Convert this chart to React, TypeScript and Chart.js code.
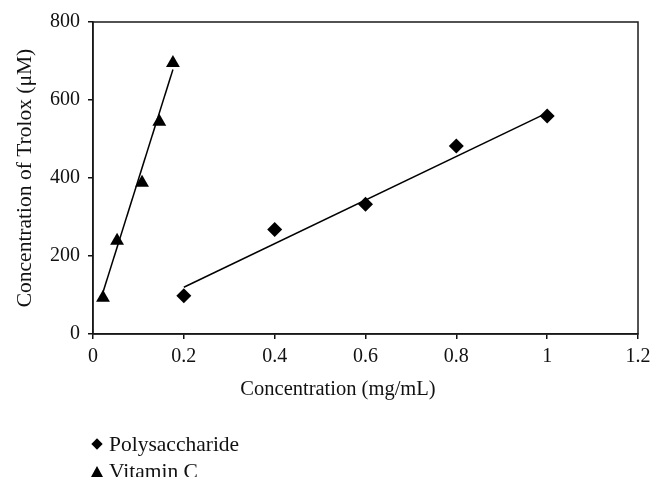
import React, { useEffect, useRef } from 'react';
import { Chart, registerables } from 'chart.js';

Chart.register(...registerables);

const seriesNames = ['Polysaccharide', 'Vitamin C'];
const polyX = [0.2, 0.4, 0.6, 0.8, 1.0];
const polyY = [98, 268, 333, 482, 559];
const vitCX = [0.022, 0.053, 0.108, 0.146, 0.176];
const vitCY = [93, 239, 388, 544, 695];
const polyTrendX = [0.2, 1.0];
const polyTrendY = [120, 567];
const vitCTrendX = [0.022, 0.176];
const vitCTrendY = [107, 678];
const xTickLabels = ['0', '0.2', '0.4', '0.6', '0.8', '1', '1.2'];
const yTickLabels = ['0', '200', '400', '600', '800'];
const xAxisTitle = 'Concentration (mg/mL)';
const yAxisTitle = 'Concentration of Trolox (\u03bcM)';

const FONT = "'Liberation Serif', 'DejaVu Serif', serif";

const toPts = (xs: number[], ys: number[]) => xs.map((x, i) => ({ x, y: ys[i] }));

const framePlugin = {
  id: 'frame',
  afterDraw(chart: any) {
    const { ctx, chartArea } = chart;
    ctx.save();
    ctx.strokeStyle = '#1a1a1a';
    ctx.lineWidth = 1.5;
    ctx.strokeRect(chartArea.left, chartArea.top, chartArea.right - chartArea.left, chartArea.bottom - chartArea.top);
    ctx.restore();
  },
};

export default function App() {
  const ref = useRef<HTMLCanvasElement | null>(null);

  useEffect(() => {
    if (!ref.current) return;
    const chart = new Chart(ref.current, {
      type: 'scatter',
      data: {
        datasets: [
          {
            label: seriesNames[0],
            data: toPts(polyX, polyY),
            pointStyle: 'rectRot',
            pointRadius: 7.5,
            backgroundColor: '#000',
            borderColor: '#000',
            borderWidth: 0,
            showLine: false,
          },
          {
            label: seriesNames[1],
            data: toPts(vitCX, vitCY),
            pointStyle: 'triangle',
            pointRadius: 8,
            backgroundColor: '#000',
            borderColor: '#000',
            borderWidth: 0,
            showLine: false,
          },
          {
            label: seriesNames[0] + ' trend',
            data: toPts(polyTrendX, polyTrendY),
            showLine: true,
            pointRadius: 0,
            borderColor: '#000',
            borderWidth: 1.5,
          },
          {
            label: seriesNames[1] + ' trend',
            data: toPts(vitCTrendX, vitCTrendY),
            showLine: true,
            pointRadius: 0,
            borderColor: '#000',
            borderWidth: 1.5,
          },
        ],
      },
      options: {
        animation: false,
        responsive: false,
        maintainAspectRatio: false,
        layout: { padding: { left: 0, top: 22, right: 26, bottom: 0 } },
        plugins: {
          legend: { display: false },
          tooltip: { enabled: false },
        },
        scales: {
          x: {
            type: 'linear',
            min: 0,
            max: 1.2,
            afterBuildTicks: (scale: any) => {
              scale.ticks = xTickLabels.map((_, i) => ({ value: i * 0.2 }));
            },
            ticks: {
              callback: (_v: any, i: number) => xTickLabels[i],
              color: '#111',
              font: { family: FONT, size: 20 },
              padding: 6,
              maxRotation: 0,
            },
            grid: { drawOnChartArea: false, drawTicks: true, tickLength: 5, color: '#111', lineWidth: 1.5 },
            border: { display: true, color: '#111', width: 1.5 },
            title: { display: false },
            afterFit: (scale: any) => {
              scale.height = 157;
            },
          },
          y: {
            type: 'linear',
            min: 0,
            max: 800,
            afterBuildTicks: (scale: any) => {
              scale.ticks = yTickLabels.map((_, i) => ({ value: i * 200 }));
            },
            ticks: {
              callback: (_v: any, i: number) => yTickLabels[i],
              color: '#111',
              font: { family: FONT, size: 20 },
              padding: 8,
            },
            grid: { drawOnChartArea: false, drawTicks: true, tickLength: 5, color: '#111', lineWidth: 1.5 },
            border: { display: true, color: '#111', width: 1.5 },
            title: {
              display: true,
              text: yAxisTitle,
              color: '#111',
              font: { family: FONT, size: 21.5 },
              padding: { top: 12, bottom: 0 },
            },
            afterFit: (scale: any) => {
              scale.width = 93;
            },
          },
        },
      },
      plugins: [framePlugin],
    });
    return () => chart.destroy();
  }, []);

  const legendRow = (kind: 'diamond' | 'triangle', text: string, top: number) => (
    <div
      style={{
        position: 'absolute',
        left: 91,
        top,
        display: 'flex',
        alignItems: 'center',
        fontFamily: FONT,
        fontSize: 21.5,
        color: '#111',
        lineHeight: '26px',
        whiteSpace: 'nowrap',
      }}
    >
      {kind === 'diamond' ? (
        <span
          style={{
            display: 'inline-block',
            width: 8,
            height: 8,
            background: '#000',
            transform: 'rotate(45deg)',
            marginLeft: 2,
            marginRight: 8,
          }}
        />
      ) : (
        <span
          style={{
            display: 'inline-block',
            width: 0,
            height: 0,
            borderLeft: '6px solid transparent',
            borderRight: '6px solid transparent',
            borderBottom: '11px solid #000',
            marginRight: 6,
          }}
        />
      )}
      <span>{text}</span>
    </div>
  );

  return (
    <div style={{ position: 'fixed', left: 0, top: 0, width: 664, height: 491, overflow: 'hidden', background: '#fff' }}>
      <canvas ref={ref} width={664} height={491} style={{ position: 'absolute', left: 0, top: 0, width: 664, height: 491 }} />
      <div
        style={{
          position: 'absolute',
          left: 338 - 150,
          width: 300,
          top: 374,
          textAlign: 'center',
          fontFamily: FONT,
          fontSize: 20.5,
          lineHeight: '28px',
          color: '#111',
          whiteSpace: 'nowrap',
        }}
      >
        {xAxisTitle}
      </div>
      <div style={{ position: 'absolute', left: 0, top: 0, width: 664, height: 477, overflow: 'hidden' }}>
        {legendRow('diamond', seriesNames[0], 431)}
        {legendRow('triangle', seriesNames[1], 458)}
      </div>
    </div>
  );
}
